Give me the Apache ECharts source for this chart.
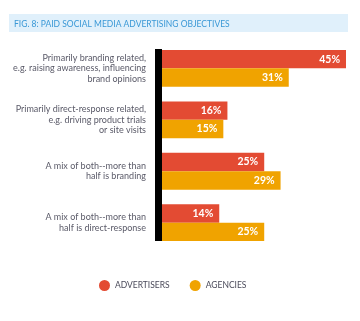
<!DOCTYPE html>
<html>
<head>
<meta charset="utf-8">
<script src="https://cdn.jsdelivr.net/npm/echarts@6/dist/echarts.min.js"></script>
<style>
  html, body { margin: 0; padding: 0; background: #ffffff; }
  #chart { width: 360px; height: 321px; }
</style>
</head>
<body>
<div id="chart"></div>
<script>
// Objectives for paid social media advertising (share of respondents, %)
const categories = [
  'Primarily branding related,\ne.g. raising awareness, influencing\nbrand opinions',
  'Primarily direct-response related,\ne.g. driving product trials\nor site visits',
  'A mix of both--more than\nhalf is branding',
  'A mix of both--more than\nhalf is direct-response'
];
const advertisers = [45, 16, 25, 14];
const agencies = [31, 15, 29, 25];
const seriesNames = ['ADVERTISERS', 'AGENCIES'];
const titleText = 'FIG. 8: PAID SOCIAL MEDIA ADVERTISING OBJECTIVES';

const RED = '#e34b33';
const ORANGE = '#f0a300';
const FONT = 'Lato, "Open Sans", sans-serif';

const chart = echarts.init(document.getElementById('chart'), null, { renderer: 'canvas' });

const barLabel = {
  show: true,
  position: 'insideRight',
  distance: 6,
  color: '#ffffff',
  fontFamily: FONT,
  fontWeight: 'bold',
  fontSize: 10.5,
  formatter: p => p.value + '%'
};

chart.setOption({
  animation: false,
  textStyle: { fontFamily: FONT },
  title: {
    text: titleText,
    left: 9,
    top: 15,
    textStyle: { color: '#3a98d6', fontSize: 8.5, fontWeight: 'normal', fontFamily: FONT }
  },
  graphic: [
    {
      type: 'rect',
      z: -1,
      shape: { x: 9, y: 14, width: 339, height: 18 },
      style: { fill: '#e0f0fb' }
    },
    {
      // heavy baseline on the left of the bars
      type: 'rect',
      z: 10,
      shape: { x: 155, y: 49, width: 7, height: 192 },
      style: { fill: '#000000' }
    }
  ],
  legend: {
    data: seriesNames,
    left: 94,
    top: 275,
    icon: 'circle',
    itemWidth: 11,
    itemHeight: 11,
    itemGap: 20,
    textStyle: { color: '#4a4a5a', fontSize: 8.5, fontFamily: FONT }
  },
  grid: { left: 162, top: 42.6, width: 184, height: 205.8, containLabel: false },
  xAxis: {
    type: 'value',
    min: 0,
    max: 45,
    show: false
  },
  yAxis: {
    type: 'category',
    inverse: true,
    data: categories,
    axisLine: { show: false },
    axisTick: { show: false },
    axisLabel: {
      margin: 16,
      align: 'right',
      color: '#5a5a68',
      fontSize: 9,
      lineHeight: 10.5,
      fontFamily: FONT
    }
  },
  series: [
    {
      name: seriesNames[0],
      type: 'bar',
      data: advertisers,
      itemStyle: { color: RED },
      barWidth: 18.4,
      barGap: '0%',
      label: barLabel
    },
    {
      name: seriesNames[1],
      type: 'bar',
      data: agencies,
      itemStyle: { color: ORANGE },
      barWidth: 18.4,
      barGap: '0%',
      label: barLabel
    }
  ]
});
</script>
</body>
</html>
